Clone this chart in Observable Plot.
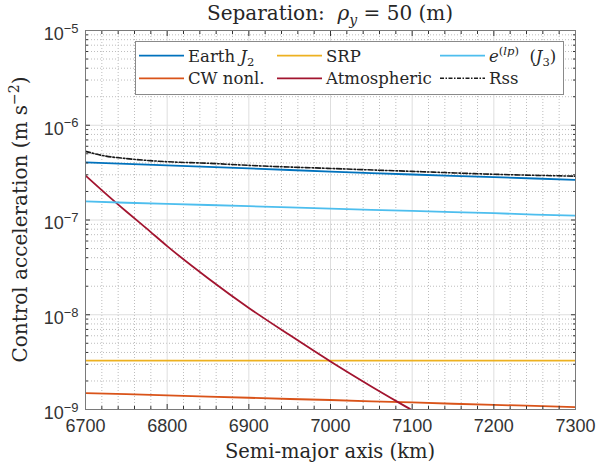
<!DOCTYPE html>
<html>
<head>
<meta charset="utf-8">
<script src="https://cdn.jsdelivr.net/npm/d3@7"></script>
<script src="https://cdn.jsdelivr.net/npm/@observablehq/plot@0.6"></script>
<style>
  html, body { margin: 0; padding: 0; background: #fff; }
  #chart { position: relative; width: 597px; height: 473px; }
  svg text { white-space: pre; }
</style>
</head>
<body>
<div id="chart"></div>
<script>
// ---- data ----
const xGrid = [6700, 6750, 6800, 6850, 6900, 6950, 7000, 7050, 7100, 7150, 7200, 7250, 7300];
const earthJ2 = [4.05e-7, 3.91e-7, 3.77e-7, 3.63e-7, 3.50e-7, 3.37e-7, 3.24e-7, 3.13e-7, 3.02e-7, 2.92e-7, 2.83e-7, 2.74e-7, 2.65e-7];
const eJ3 = [1.57e-7, 1.52e-7, 1.48e-7, 1.44e-7, 1.40e-7, 1.36e-7, 1.32e-7, 1.28e-7, 1.25e-7, 1.21e-7, 1.18e-7, 1.14e-7, 1.11e-7];
const srp = [3.28e-9, 3.28e-9, 3.28e-9, 3.28e-9, 3.28e-9, 3.28e-9, 3.28e-9, 3.28e-9, 3.28e-9, 3.28e-9, 3.28e-9, 3.28e-9, 3.28e-9];
const cwNonl = [1.49e-9, 1.45e-9, 1.41e-9, 1.37e-9, 1.33e-9, 1.29e-9, 1.26e-9, 1.22e-9, 1.19e-9, 1.15e-9, 1.12e-9, 1.09e-9, 1.06e-9];
const atmX = [6700, 6725, 6750, 6775, 6800, 6850, 6900, 6950, 7000, 7050, 7100, 7150];
const atmospheric = [2.95e-7, 1.89e-7, 1.23e-7, 8.1e-8, 5.3e-8, 2.43e-8, 1.18e-8, 6.1e-9, 3.21e-9, 1.75e-9, 9.8e-10, 5.5e-10];
const rssX = [6700, 6725, 6750, 6800, 6850, 6900, 7000, 7100, 7200, 7300];
const rss = [5.3e-7, 4.72e-7, 4.45e-7, 4.12e-7, 3.97e-7, 3.77e-7, 3.50e-7, 3.26e-7, 3.04e-7, 2.90e-7];

const xMajor = [6700, 6800, 6900, 7000, 7100, 7200, 7300];
const xMinor = d3.range(6700, 7301, 20).filter(v => v % 100 !== 0);
const yMajor = [1e-9, 1e-8, 1e-7, 1e-6, 1e-5];
const yMinor = [1e-9, 1e-8, 1e-7, 1e-6].flatMap(d => [2,3,4,5,6,7,8,9].map(m => m * d));

const colors = {j2: "#0072BD", srp: "#EDB120", j3: "#4DBEEE", cw: "#D95319", atm: "#A2142F", rss: "#1a1a1a"};

const pairs = (xs, ys) => xs.map((x, i) => [x, ys[i]]);
const lw = 1.8;
const axisColor = "#333333";
const serifFamily = "DejaVu Serif";

const plot = Plot.plot({
  width: 597,
  height: 473,
  marginLeft: 85,
  marginRight: 22,
  marginTop: 30,
  marginBottom: 64,
  x: {domain: [6700, 7300]},
  y: {type: "log", domain: [1e-9, 1e-5]},
  style: {fontSize: "18px", color: axisColor, background: "#fff"},
  marks: [
    Plot.gridX(xMinor, {stroke: "#bdbdbd", strokeOpacity: 1, strokeDasharray: "1,2"}),
    Plot.gridY(yMinor, {stroke: "#bdbdbd", strokeOpacity: 1, strokeDasharray: "1,2"}),
    Plot.gridX(xMajor, {stroke: "#dedede", strokeOpacity: 1}),
    Plot.gridY(yMajor, {stroke: "#dedede", strokeOpacity: 1}),
    Plot.line(pairs(xGrid, earthJ2), {stroke: colors.j2, strokeWidth: lw, clip: true}),
    Plot.line(pairs(xGrid, cwNonl), {stroke: colors.cw, strokeWidth: lw, clip: true}),
    Plot.line(pairs(xGrid, srp), {stroke: colors.srp, strokeWidth: lw, clip: true}),
    Plot.line(pairs(atmX, atmospheric), {stroke: colors.atm, strokeWidth: lw, curve: "monotone-x", clip: true}),
    Plot.line(pairs(xGrid, eJ3), {stroke: colors.j3, strokeWidth: lw, clip: true}),
    Plot.line(pairs(rssX, rss), {stroke: colors.rss, strokeWidth: 1.6, strokeDasharray: "5,2,1.5,2", curve: "monotone-x", clip: true}),
    // tick labels
    Plot.axisX(xMajor, {anchor: "bottom", tickSize: 0, tickPadding: 10, tickFormat: d => String(d), label: null, fill: axisColor, fontFamily: "Liberation Sans"}),
    Plot.axisY(yMajor, {anchor: "left", tickSize: 0, tickPadding: 7, tickFormat: d => "10^" + Math.round(Math.log10(d)), label: null, fill: axisColor, fontFamily: "Liberation Sans"}),
    // inward ticks on all sides
    Plot.axisX(xMajor, {anchor: "bottom", tickSize: -5, fill: "none", label: null, stroke: axisColor}),
    Plot.axisX(xMajor, {anchor: "top", tickSize: -5, fill: "none", label: null, stroke: axisColor}),
    Plot.axisX(xMinor, {anchor: "bottom", tickSize: -3, fill: "none", label: null, stroke: axisColor}),
    Plot.axisX(xMinor, {anchor: "top", tickSize: -3, fill: "none", label: null, stroke: axisColor}),
    Plot.axisY(yMajor, {anchor: "left", tickSize: -5, fill: "none", label: null, stroke: axisColor}),
    Plot.axisY(yMajor, {anchor: "right", tickSize: -5, fill: "none", label: null, stroke: axisColor}),
    Plot.axisY(yMinor, {anchor: "left", tickSize: -3, fill: "none", label: null, stroke: axisColor}),
    Plot.axisY(yMinor, {anchor: "right", tickSize: -3, fill: "none", label: null, stroke: axisColor}),
    Plot.frame({stroke: "#7a7a7a"})
  ]
});

document.getElementById("chart").appendChild(plot);
const svg = d3.select(plot);

// superscript exponents on y tick labels
svg.selectAll('g[aria-label="y-axis tick label"] text').each(function () {
  const t = d3.select(this);
  const s = t.text();
  if (!s.includes("^")) return;
  const [b, e] = s.split("^");
  t.text(null);
  t.append("tspan").attr("dy", "0.2em").text(b);
  t.append("tspan").attr("dy", "-0.55em").attr("font-size", "13px").text(e.replace("-", "\u2212"));
});

// rich text helper
function rich(parent, parts, {x = 0, y = 0, anchor = "start", size = 19, transform = null, family = serifFamily}) {
  const t = parent.append("text")
    .attr("x", x).attr("y", y)
    .attr("text-anchor", anchor)
    .attr("font-family", family)
    .attr("font-size", size)
    .attr("fill", "#262626");
  if (transform) t.attr("transform", transform);
  let shift = 0;
  for (const p of parts) {
    const s = p.s || "n";
    const target = s === "sub" ? size * 0.25 : s === "sup" ? -size * 0.42 : 0;
    const ts = t.append("tspan").text(p.t).attr("dy", target - shift);
    shift = target;
    if (s !== "n") ts.attr("font-size", size * 0.7);
    if (p.i) ts.attr("font-style", "italic");
  }
  return t;
}

const overlay = svg.append("g").attr("class", "annotations");

// title
rich(overlay, [{t: "Separation:  "}, {t: "\u03C1", i: true}, {t: "y", i: true, s: "sub"}, {t: " = 50 (m)"}],
  {x: 330, y: 20, anchor: "middle", size: 20});
// x label
rich(overlay, [{t: "Semi-major axis (km)"}], {x: 330, y: 458, anchor: "middle", size: 19.5});
// y label
rich(overlay, [{t: "Control acceleration (m s"}, {t: "\u22122", s: "sup"}, {t: ")"}],
  {anchor: "middle", size: 20, transform: "translate(27,219.5) rotate(-90)"});

// legend
const leg = overlay.append("g").attr("class", "legend");
leg.append("rect").attr("x", 135.5).attr("y", 41.5).attr("width", 428).attr("height", 53)
  .attr("fill", "#fff").attr("stroke", "#8a8a8a").attr("stroke-width", 1);
const legendItems = [
  {col: 0, row: 0, color: colors.j2, parts: [{t: "Earth "}, {t: "J", i: true}, {t: "2", s: "sub"}]},
  {col: 1, row: 0, color: colors.srp, parts: [{t: "SRP"}]},
  {col: 2, row: 0, color: colors.j3, parts: [{t: "e", i: true}, {t: "(", s: "sup"}, {t: "lp", i: true, s: "sup"}, {t: ")", s: "sup"}, {t: "  ("}, {t: "J", i: true}, {t: "3", s: "sub"}, {t: ")"}]},
  {col: 0, row: 1, color: colors.cw, parts: [{t: "CW nonl."}]},
  {col: 1, row: 1, color: colors.atm, parts: [{t: "Atmospheric"}]},
  {col: 2, row: 1, color: colors.rss, dash: "4,1.5,1.5,1.5", parts: [{t: "Rss"}]}
];
const colX = [139, 277, 440];
const rowY = [55.7, 78.3];
for (const it of legendItems) {
  const x0 = colX[it.col], y0 = rowY[it.row];
  leg.append("line").attr("x1", x0).attr("x2", x0 + 45).attr("y1", y0).attr("y2", y0)
    .attr("stroke", it.color).attr("stroke-width", it.dash ? 1.6 : lw)
    .attr("stroke-dasharray", it.dash || null);
  rich(leg, it.parts, {x: x0 + 49, y: y0 + 6, size: 16.5});
}
</script>
</body>
</html>
